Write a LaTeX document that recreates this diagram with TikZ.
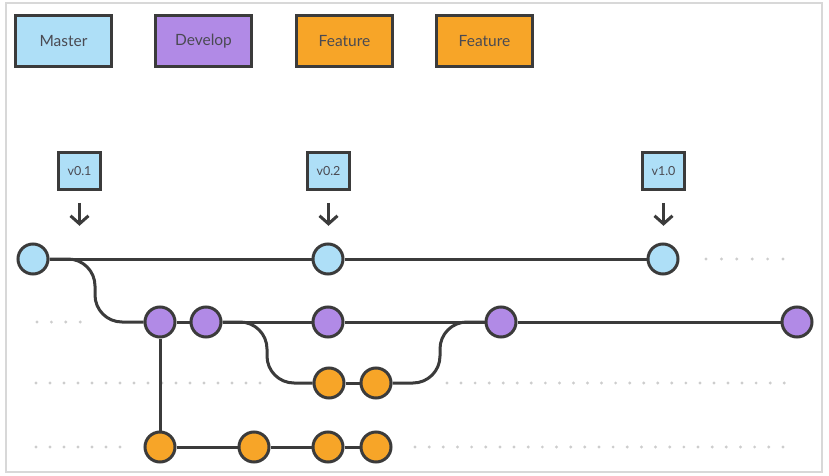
\documentclass[tikz,border=0pt]{standalone}
\usepackage{fontspec}
\setmainfont{Lato}
\usetikzlibrary{arrows.meta}
\definecolor{mblue}{HTML}{AEDFF7}
\definecolor{dpurple}{HTML}{B18AE6}
\definecolor{forange}{HTML}{F7A528}
\definecolor{ink}{HTML}{3B3B3B}
\definecolor{txt}{HTML}{4A4A52}
\definecolor{dotc}{HTML}{CDCDCD}
\definecolor{framec}{HTML}{D8D8D8}
\begin{document}
\begin{tikzpicture}[x=1pt,y=-1pt,
  commit/.style={circle, draw=ink, line width=3pt, minimum size=30pt, inner sep=0pt},
  legendbox/.style={draw=ink, line width=3pt, minimum width=96pt, minimum height=51pt, inner sep=0pt, font=\fontsize{15.5}{17}\selectfont, text=txt},
  tagbox/.style={draw=ink, line width=2.6pt, fill=mblue, minimum width=42pt, minimum height=37pt, inner sep=0pt, font=\fontsize{12.5}{14}\selectfont, text=txt},
  branchline/.style={draw=ink, line width=3pt},
  curveline/.style={draw=ink, line width=3pt, rounded corners=27pt},
  tagarrow/.style={draw=ink, line width=3pt, -{Straight Barb[length=8pt, width=18pt, line join=miter]}},
  dotmark/.style={fill=dotc, draw=none}
]
\useasboundingbox (0,0) rectangle (829,476);
\fill[white] (0,0) rectangle (829,476);
\draw[framec, line width=1.5pt] (6,3) rectangle (822,472);

% legend
\node[legendbox, fill=mblue]   (lm) at (63.5,41)  {\raisebox{-1pt}{Master}};
\node[legendbox, fill=dpurple] (ld) at (203.5,41) {\raisebox{-1pt}{Develop}};
\node[legendbox, fill=forange] (lf1) at (344.5,41) {\raisebox{-1pt}{Feature}};
\node[legendbox, fill=forange] (lf2) at (484.5,41) {\raisebox{-1pt}{Feature}};

% dotted continuation marks
\foreach \x in {0,...,5} \fill[dotmark] (706+\x*15.4,259) circle (1.6);
\foreach \x in {0,...,3} \fill[dotmark] (37+\x*14.4,322) circle (1.6);
\foreach \x in {0,...,16} \fill[dotmark] (36+\x*14,383) circle (1.6);
\foreach \x in {0,...,24} \fill[dotmark] (447+\x*14.05,383) circle (1.6);
\foreach \x in {0,...,6} \fill[dotmark] (36+\x*14,447) circle (1.6);
\foreach \x in {0,...,26} \fill[dotmark] (415+\x*14.15,447) circle (1.6);

% coordinates for the bends
\coordinate (k1) at (95,290);
\coordinate (k2) at (267,352);
\coordinate (k3) at (440,352);

% commits
\node[commit, fill=mblue] (m1) at (33,259) {};
\node[commit, fill=mblue] (m2) at (328,259) {};
\node[commit, fill=mblue] (m3) at (663,259) {};

\node[commit, fill=dpurple] (d1) at (160,322) {};
\node[commit, fill=dpurple] (d2) at (206,322) {};
\node[commit, fill=dpurple] (d3) at (328,322) {};
\node[commit, fill=dpurple] (d4) at (501,322) {};
\node[commit, fill=dpurple] (d5) at (797,322) {};

\node[commit, fill=forange] (f1) at (329,383) {};
\node[commit, fill=forange] (f2) at (376,383) {};

\node[commit, fill=forange] (g1) at (160,447) {};
\node[commit, fill=forange] (g2) at (254,447) {};
\node[commit, fill=forange] (g3) at (328,447) {};
\node[commit, fill=forange] (g4) at (376,447) {};

% connectors
\draw[branchline] (m1) -- (m2) -- (m3);
\draw[branchline] (d1) -- (d2) -- (d3) -- (d4) -- (d5);
\draw[branchline] (f1) -- (f2);
\draw[branchline] (g1) -- (g2) -- (g3) -- (g4);
\draw[branchline] (d1) -- (g1);
\draw[curveline] (m1.east) -| (k1 |- d1.west) -- (d1.west);
\draw[curveline] (d2.east) -| (k2 |- f1.west) -- (f1.west);
\draw[curveline] (f2.east) -| (k3 |- d4.west) -- (d4.west);

% tags
\node[tagbox] (t1) at (79.5,171) {v0.1};
\node[tagbox] (t2) at (328.5,171) {v0.2};
\node[tagbox] (t3) at (663.5,171) {v1.0};
\draw[tagarrow] ([yshift=-12pt]t1.south) -- ++(0,23);
\draw[tagarrow] ([yshift=-12pt]t2.south) -- ++(0,23);
\draw[tagarrow] ([yshift=-12pt]t3.south) -- ++(0,23);
\end{tikzpicture}
\end{document}
